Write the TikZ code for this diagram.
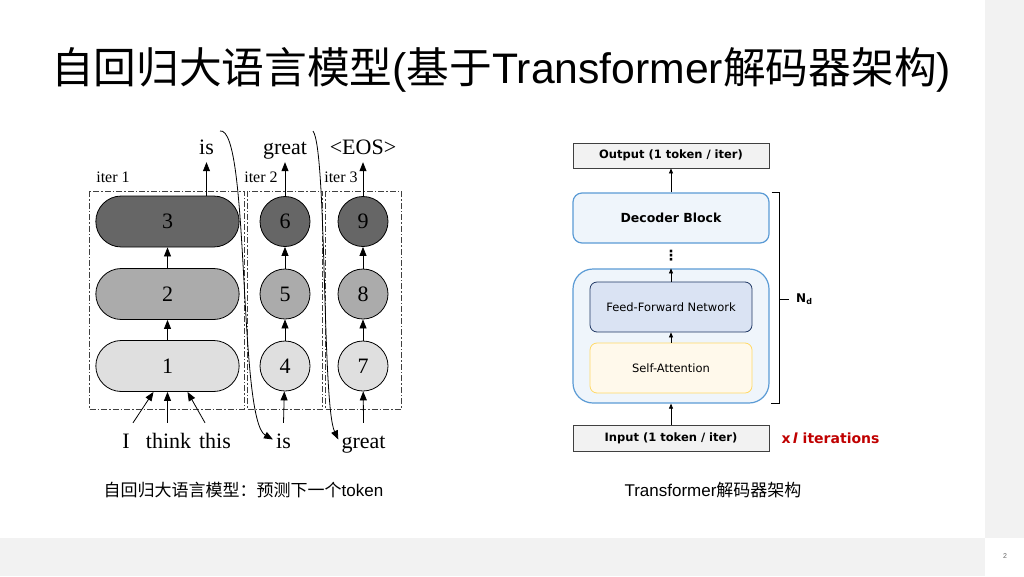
\documentclass[tikz,border=0pt]{standalone}
\usepackage{fontspec}
\setmainfont{Liberation Sans}
\newfontfamily\cjk{Noto Sans CJK SC}
\newfontfamily\tms{Liberation Serif}
\newfontfamily\vdn{DejaVu Sans}
\usetikzlibrary{arrows.meta,positioning,shapes.misc}
\definecolor{tokdark}{HTML}{666666}
\definecolor{tokmid}{HTML}{ABABAB}
\definecolor{toklight}{HTML}{DFDFDF}
\definecolor{blkblue}{HTML}{5B9BD5}
\definecolor{blkfill}{HTML}{EFF5FB}
\definecolor{ffnfill}{HTML}{DAE3F3}
\definecolor{ffnline}{HTML}{203864}
\definecolor{safill}{HTML}{FFF9EB}
\definecolor{saline}{HTML}{FFD966}
\definecolor{iored}{HTML}{C00000}
\definecolor{slidegray}{HTML}{F2F2F2}
\newcommand{\zh}[1]{{\cjk #1}}

\begin{document}
\begin{tikzpicture}[x=1pt,y=-1pt, >={Triangle[length=9pt,width=7pt]},
tok/.style={draw,rounded rectangle,minimum width=150pt,minimum height=51pt,line width=0.8pt,font=\tms\fontsize{22}{22}\selectfont},
cell/.style={draw,circle,minimum size=50pt,inner sep=0pt,line width=0.8pt,font=\tms\fontsize{22}{22}\selectfont},
word/.style={anchor=base,font=\tms\fontsize{22}{22}\selectfont,text height=22pt,text depth=5pt,inner sep=3pt},
outw/.style={anchor=base,font=\tms\fontsize{22}{22}\selectfont,text depth=5pt,inner sep=3pt},
iterbox/.style={draw=black!75,line width=0.9pt,dash pattern=on 6pt off 2pt on 1.5pt off 2pt},
iterlbl/.style={font=\tms\fontsize{16}{16}\selectfont,inner sep=0pt},
io/.style={draw=black!75,fill=slidegray,line width=0.8pt,minimum width=196pt,minimum height=25pt,font=\vdn\bfseries\fontsize{11.5}{12}\selectfont},
blk/.style={draw=blkblue,fill=blkfill,line width=1.2pt,rounded corners=9pt,minimum width=196pt},
sub/.style={rounded corners=7pt,minimum width=162pt,minimum height=50pt,line width=0.8pt,font=\vdn\fontsize{11.5}{12}\selectfont},
flow/.style={->,>={Triangle[length=5pt,width=4pt]},line width=0.7pt},
captxt/.style={font=\fontsize{17}{17}\selectfont}]
\fill[white] (0,0) rectangle (1024,576);
\fill[slidegray] (985,0) rectangle (1024,538);
\fill[slidegray] (0,538) rectangle (985,576);
\node[font=\fontsize{7}{7}\selectfont,text=black!60] (pageno) at (1005,556) {2};
\useasboundingbox (0,0) rectangle (1024,576);

\node[font=\fontsize{42.7}{43}\selectfont] (title) at (501,70) {\zh{自回归大语言模型}(\zh{基于}Transformer\zh{解码器架构})};

\draw[iterbox] (89,191) rectangle (244,409);
\draw[iterbox] (247,191) rectangle (322,409);
\draw[iterbox] (325,191) rectangle (401,409);
\node[iterlbl] (it1) at (113,177) {iter 1};
\node[iterlbl] (it2) at (261,177) {iter 2};
\node[iterlbl] (it3) at (341,177) {iter 3};

\node[tok,fill=toklight] (t1) at (167.5,366) {1};
\node[tok,fill=tokmid] (t2) at (167.5,294) {2};
\node[tok,fill=tokdark] (t3) at (167.5,221.5) {3};
\node[cell,fill=toklight] (t4) at (285,366) {4};
\node[cell,fill=tokmid] (t5) at (285,294) {5};
\node[cell,fill=tokdark] (t6) at (285,221.5) {6};
\node[cell,fill=toklight] (t7) at (363,366) {7};
\node[cell,fill=tokmid] (t8) at (363,294) {8};
\node[cell,fill=tokdark] (t9) at (363,221.5) {9};

\node[outw] (isT) at (206.5,154) {is};
\node[outw] (greatT) at (285,154) {great};
\node[outw] (eosT) at (363,154) {<EOS>};
\node[word] (wI) at (126,448) {I};
\node[word] (wthink) at (168.5,448) {think};
\node[word] (wthis) at (215,448) {this};
\node[word] (isB) at (283.5,448) {is};
\node[word] (greatB) at (363.5,448) {great};

\draw[->,line width=0.8pt] (t1)--(t2);\draw[->,line width=0.8pt] (t2)--(t3);
\draw[->,line width=0.8pt] (t4)--(t5);\draw[->,line width=0.8pt] (t5)--(t6);
\draw[->,line width=0.8pt] (t7)--(t8);\draw[->,line width=0.8pt] (t8)--(t9);
\draw[->,line width=0.8pt] (t3.north -| isT)--(isT.south);
\draw[->,line width=0.8pt] (t6)--(greatT.south);\draw[->,line width=0.8pt] (t9)--(eosT.south);
\draw[->,line width=0.8pt] ([xshift=7pt]wI.north)--([xshift=-14pt]t1.south);
\draw[->,line width=0.8pt] (wthink.north -| t1)--(t1.south);
\draw[->,line width=0.8pt] ([xshift=-10pt]wthis.north)--([xshift=20pt]t1.south);
\draw[->,line width=0.8pt] (isB.north)--(t4);\draw[->,line width=0.8pt] (greatB.north)--(t7);

\coordinate (c1) at (220,131);
\coordinate (c2) at (313,131);
\draw[->,line width=0.8pt] (c1) .. controls (250,126) and (238,420) .. (isB.west);
\draw[->,line width=0.8pt] (c2) .. controls (327,150) and (322,405) .. (greatB.west);

\node[io] (output) at (671,155.5) {Output (1 token / iter)};
\node[blk,minimum height=50pt,font=\vdn\bfseries\fontsize{12.5}{13}\selectfont] (decoder) at (671,218) {Decoder Block};
\node[font=\vdn\bfseries\fontsize{14}{14}\selectfont] (dots) at (671,256) {⋮};
\node[blk,rounded corners=20pt,minimum height=134pt] (stack) at (671,336) {};
\node[sub,draw=ffnline,fill=ffnfill] (ffn) at (671,307) {Feed-Forward Network};
\node[sub,draw=saline,fill=safill] (attn) at (671,368) {Self-Attention};
\node[io,minimum height=26pt] (input) at (671,438) {Input (1 token / iter)};
\draw[flow] (decoder)--(output);\draw[flow] (ffn)--(stack.north);
\draw[flow] (attn)--(ffn);\draw[flow] (input)--(stack);

\node[anchor=west,font=\vdn\bfseries\fontsize{12}{12}\selectfont,inner sep=1pt] (nd) at (795,299) {N\textsubscript{d}};
\draw[line width=0.6pt] ([xshift=2pt]decoder.north east) -| ([xshift=10pt]stack.south east) -- ([xshift=1pt]stack.south east);
\draw[line width=0.6pt] ([xshift=10pt]stack.south east |- nd.west)--([xshift=-6pt]nd.west);
\node[anchor=west,text=iored,font=\vdn\bfseries\fontsize{14}{14}\selectfont] (iters) at (778,438) {x\,\textit{l} iterations};

\node[captxt] (capl) at (243.5,490) {\zh{自回归大语言模型：预测下一个}token};
\node[captxt] (capr) at (713,490) {Transformer\zh{解码器架构}};
\end{tikzpicture}
\end{document}
